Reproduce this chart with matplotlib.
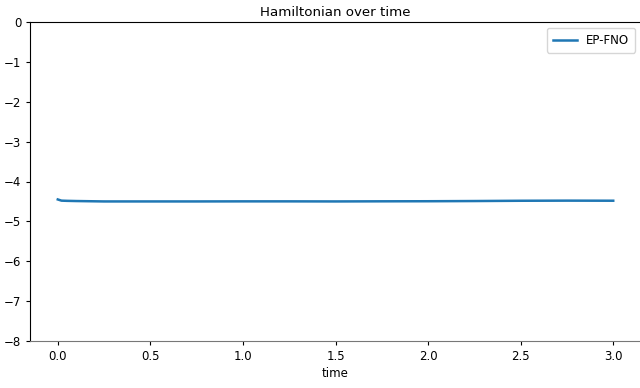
import matplotlib
matplotlib.use('Agg')
import matplotlib.pyplot as plt

# Hamiltonian values
time = [0.0, 0.02, 0.05, 0.1, 0.25, 0.5, 0.75, 1.0, 1.25, 1.5, 1.75, 2.0, 2.25, 2.5, 2.75, 3.0]
hamiltonian = [-4.45, -4.48, -4.485, -4.49, -4.50, -4.50, -4.50, -4.498, -4.498, -4.50,
               -4.497, -4.495, -4.49, -4.483, -4.48, -4.482]

plt.rcParams['font.size'] = 8.5

fig = plt.figure(figsize=(6.4, 3.88), dpi=100)
ax = fig.add_axes([30 / 640, 47 / 388, 611 / 640, 319 / 388])

ax.plot(time, hamiltonian, color='#1f77b4', lw=1.8, label='EP-FNO')
ax.set_ylim(-8, 0)
ax.set_xlim(-0.15, 3.15)
ax.set_xticks([0.0, 0.5, 1.0, 1.5, 2.0, 2.5, 3.0])
ax.tick_params(length=2.8, width=0.8)
ax.set_xlabel('time', labelpad=3)
ax.set_title('Hamiltonian over time', fontsize=9.6, pad=4)
for s in ax.spines.values():
    s.set_linewidth(0.8)
ax.spines['bottom'].set_color('#777777')
ax.legend(loc='upper right', fontsize=8.5, borderpad=0.5)

fig.savefig('out.png', dpi=100)
